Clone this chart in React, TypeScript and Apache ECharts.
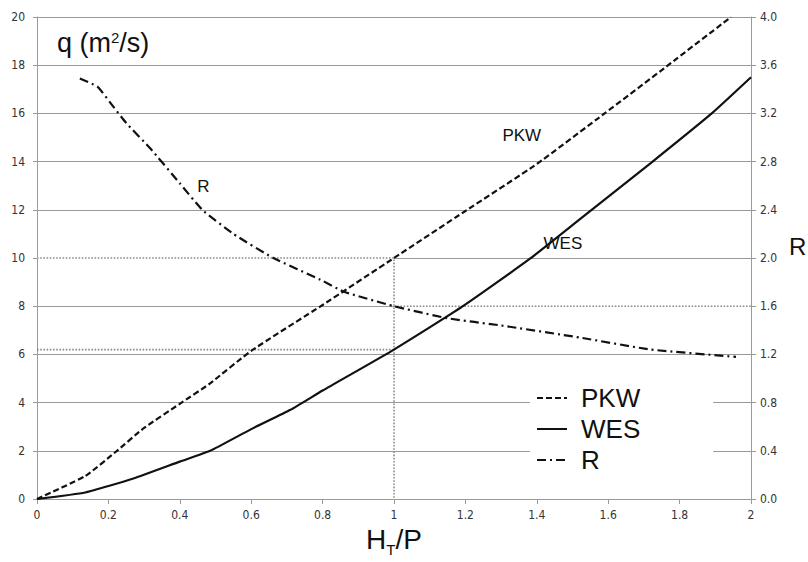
import React, { useEffect, useRef } from "react";
import * as echarts from "echarts";

const xPKW = [0, 0.135, 0.22, 0.3, 0.4, 0.485, 0.6, 0.8, 1.0, 1.2, 1.4, 1.59, 1.768, 1.944];
const qPKW = [0, 0.95, 1.95, 2.95, 3.95, 4.8, 6.15, 8.05, 10.0, 11.95, 13.9, 16.0, 18.0, 20.0];

const xWES = [0, 0.135, 0.27, 0.4, 0.485, 0.6, 0.71, 0.8, 1.0, 1.19, 1.38, 1.52, 1.72, 1.89, 2.0];
const qWES = [0, 0.27, 0.85, 1.55, 2.0, 2.9, 3.7, 4.5, 6.2, 7.97, 9.96, 11.6, 13.95, 16.0, 17.5];

const xR = [0.12, 0.17, 0.205, 0.25, 0.317, 0.4, 0.463, 0.55, 0.662, 0.794, 0.86, 1.0, 1.15, 1.3, 1.52, 1.72, 1.958];
const valR = [3.49, 3.42, 3.29, 3.12, 2.91, 2.62, 2.4, 2.2, 2.0, 1.82, 1.72, 1.6, 1.5, 1.44, 1.34, 1.24, 1.18];

// reference (dotted) lines
const refX = 1.0;
const refQ = 10;
const refQ2 = 6.2;
const refR = 1.6;

// annotation positions (data space)
const labelPKW = [1.358, 15.1];
const labelWES = [1.473, 10.6];
const labelR = [0.466, 2.59];

const TICK_FONT = "'Liberation Sans Narrow', 'Arial Narrow', 'DejaVu Sans Condensed', 'Liberation Sans', sans-serif";
const MAIN_FONT = "'Liberation Sans', Arial, sans-serif";

const zip = (xs: number[], ys: number[]) => xs.map((x, i) => [x, ys[i]]);

export default function App() {
  const ref = useRef<HTMLDivElement>(null);
  useEffect(() => {
    if (!ref.current) return;
    const chart = echarts.init(ref.current, undefined, { renderer: "svg" });
    const gray = "#9a9a9a";
    const dotStyle = { color: "#8a8a8a", width: 1.6, type: [1.6, 1.6] as any };
    const whiteStyle = { color: "#ffffff", width: 2 };
    const refLine = (data: number[][], yAxisIndex: number, style: any, z: number) => ({
      type: "line",
      data,
      yAxisIndex,
      symbol: "none",
      silent: true,
      lineStyle: style,
      z,
      legendHoverLink: false,
      tooltip: { show: false },
    });
    const option: any = {
      animation: false,
      backgroundColor: "#ffffff",
      grid: { left: 37, right: 57, top: 17, bottom: 63 },
      legend: {
        data: ["PKW", "WES", "R"],
        orient: "vertical",
        left: 530,
        top: 379,
        padding: [6, 73, 8, 6],
        backgroundColor: "#ffffff",
        itemWidth: 30,
        itemHeight: 14,
        itemGap: 5,
        itemStyle: { opacity: 0 },
        textStyle: {
          fontFamily: MAIN_FONT,
          fontSize: 26,
          color: "#111",
          lineHeight: 26,
          padding: [0, 0, 0, 9],
        },
      },
      xAxis: {
        type: "value",
        min: 0,
        max: 2,
        interval: 0.2,
        name: "{h|H}{t|T}{h|/P}",
        nameLocation: "middle",
        nameGap: 21,
        nameTextStyle: {
          rich: {
            h: { fontSize: 28, fontFamily: MAIN_FONT, color: "#111", lineHeight: 34 },
            t: { fontSize: 15, fontFamily: MAIN_FONT, color: "#111", lineHeight: 15, verticalAlign: "bottom" },
          },
        },
        axisLine: { show: true, onZero: false, lineStyle: { color: gray } },
        axisTick: { show: true, length: 5, lineStyle: { color: gray } },
        axisLabel: { fontFamily: TICK_FONT, fontSize: 12, color: "#333", margin: 10 },
        splitLine: { show: false },
      },
      yAxis: [
        {
          type: "value",
          min: 0,
          max: 20,
          interval: 2,
          axisLine: { show: true, lineStyle: { color: gray } },
          axisTick: { show: true, length: 4, lineStyle: { color: gray } },
          axisLabel: { fontFamily: TICK_FONT, fontSize: 12, color: "#333", margin: 12 },
          splitLine: { show: true, lineStyle: { color: gray, width: 1 } },
        },
        {
          type: "value",
          min: 0,
          max: 4,
          interval: 0.4,
          position: "right",
          axisLine: { show: true, lineStyle: { color: gray } },
          axisTick: { show: true, length: 5, lineStyle: { color: gray } },
          axisLabel: {
            fontFamily: TICK_FONT,
            fontSize: 12,
            color: "#333",
            margin: 9,
            formatter: (v: number) => v.toFixed(1),
          },
          splitLine: { show: false },
        },
      ],
      graphic: [
        {
          type: "text",
          left: 57,
          top: 27,
          style: {
            text: "{a|q (m}{s|2}{a|/s)}",
            fill: "#111",
            rich: {
              a: { fontFamily: MAIN_FONT, fontSize: 27, fill: "#111", lineHeight: 32 },
              s: { fontFamily: MAIN_FONT, fontSize: 15, fill: "#111", lineHeight: 15, verticalAlign: "top", padding: [3, 0, 0, 0] },
            },
          },
        },
        {
          type: "text",
          left: 789,
          top: 234,
          style: { text: "R", fontFamily: MAIN_FONT, fontSize: 24, fill: "#111" },
        },
      ],
      series: [
        refLine([[0, refQ], [refX, refQ]], 0, whiteStyle, 1),
        refLine([[refX, refR], [2, refR]], 1, whiteStyle, 1),
        refLine([[0, refQ], [refX, refQ], [refX, 0]], 0, dotStyle, 1.5),
        refLine([[0, refQ2], [refX, refQ2]], 0, dotStyle, 1.5),
        refLine([[refX, refR], [2, refR]], 1, dotStyle, 1.5),
        {
          name: "PKW",
          type: "line",
          data: zip(xPKW, qPKW),
          yAxisIndex: 0,
          symbol: "none",
          smooth: 0.15,
          lineStyle: { color: "#111", width: 2.2, type: [6, 3] },
          itemStyle: { color: "#111" },
          z: 3,
          markPoint: {
            symbol: "circle",
            symbolSize: 0,
            label: { show: true, formatter: "PKW", fontFamily: MAIN_FONT, fontSize: 17, color: "#111", position: "inside" },
            data: [{ coord: labelPKW }],
          },
        },
        {
          name: "WES",
          type: "line",
          data: zip(xWES, qWES),
          yAxisIndex: 0,
          symbol: "none",
          smooth: 0.15,
          lineStyle: { color: "#111", width: 2.2, type: "solid" },
          itemStyle: { color: "#111" },
          z: 3,
          markPoint: {
            symbol: "circle",
            symbolSize: 0,
            label: { show: true, formatter: "WES", fontFamily: MAIN_FONT, fontSize: 17, color: "#111", position: "inside" },
            data: [{ coord: labelWES }],
          },
        },
        {
          name: "R",
          type: "line",
          data: zip(xR, valR),
          yAxisIndex: 1,
          symbol: "none",
          smooth: 0.15,
          lineStyle: { color: "#111", width: 2.2, type: [9, 4, 2, 4] },
          itemStyle: { color: "#111" },
          z: 3,
          markPoint: {
            symbol: "circle",
            symbolSize: 0,
            label: { show: true, formatter: "R", fontFamily: MAIN_FONT, fontSize: 17, color: "#111", position: "inside" },
            data: [{ coord: labelR }],
          },
        },
      ],
    };
    chart.setOption(option);
    return () => chart.dispose();
  }, []);
  return (
    <div
      ref={ref}
      style={{ position: "fixed", left: 0, top: 0, width: 808, height: 562, background: "#fff" }}
    />
  );
}
